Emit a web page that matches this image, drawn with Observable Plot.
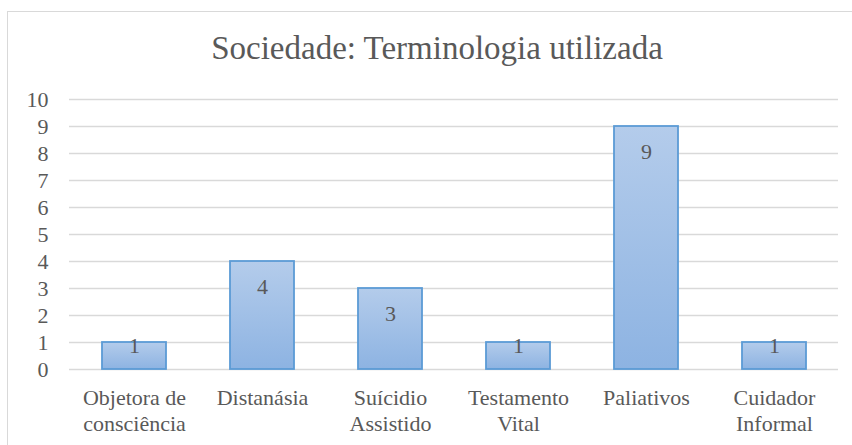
<!DOCTYPE html>
<html>
<head>
<meta charset="utf-8">
<script src="https://cdn.jsdelivr.net/npm/d3@7"></script>
<script src="https://cdn.jsdelivr.net/npm/@observablehq/plot@0.6"></script>
</head>
<body style="margin:0;padding:0;background:#fff;font-family:'Liberation Serif'">
<div id="wrap" style="position:relative;width:852px;height:445px;overflow:hidden;font-family:'Liberation Serif'">
  <div id="frame" style="position:absolute;left:7px;top:11px;width:900px;height:500px;border-left:1.5px solid #d9d9d9;border-top:1.5px solid #d9d9d9;box-sizing:border-box"></div>
  <div id="title" style="position:absolute;left:0;top:0;width:874px;height:80px;text-align:center;font-family:'Liberation Serif';font-size:33px;line-height:1;color:#595959;padding-top:32px;box-sizing:border-box">Sociedade: Terminologia utilizada</div>
  <div id="chart" style="position:absolute;left:0;top:80px"></div>
</div>
<script>
const categories = ["Objetora de\nconsciência", "Distanásia", "Suícidio\nAssistido", "Testamento\nVital", "Paliativos", "Cuidador\nInformal"];
const values = [1, 4, 3, 1, 9, 1];
const yTicks = [0, 1, 2, 3, 4, 5, 6, 7, 8, 9, 10];

const data = categories.map((c, i) => ({category: c, value: values[i]}));
const serif = "'Liberation Serif'";

const chart = Plot.plot({
  width: 852,
  height: 365,
  marginLeft: 69,
  marginRight: 14,
  marginTop: 19,
  marginBottom: 76,
  style: {fontSize: "22px", color: "#595959", background: "transparent", overflow: "visible"},
  x: {domain: categories, paddingInner: 0.5, paddingOuter: 0.25},
  y: {domain: [0, 10]},
  marks: [
    Plot.gridY(yTicks, {stroke: "#d9d9d9", strokeOpacity: 1, strokeWidth: 1.5}),
    Plot.barY(data, {x: "category", y: "value", fill: "url(#barGrad)", stroke: "#5b9bd5", strokeWidth: 1.8}),
    Plot.text(data.filter(d => d.value >= 3), {x: "category", y: "value", text: d => String(d.value), dy: 25, fill: "#595959", fontSize: 22}),
    Plot.text(data.filter(d => d.value < 3), {x: "category", y: "value", text: d => String(d.value), dy: 3, fill: "#595959", fontSize: 22}),
    Plot.axisY(yTicks, {tickSize: 0, tickPadding: 21, fontSize: 22, fill: "#595959", label: null}),
    Plot.axisX({tickSize: 0, tickPadding: 17, fontSize: 22, fill: "#595959", label: null, lineHeight: 1.18})
  ]
});

const svg = d3.select(chart);
svg.attr("font-family", "Liberation Serif").style("font-family", serif);
svg.selectAll("text, tspan, g").attr("font-family", "Liberation Serif").style("font-family", serif);
const defs = svg.insert("defs", ":first-child");
const grad = defs.append("linearGradient").attr("id", "barGrad").attr("x1", 0).attr("y1", 0).attr("x2", 0).attr("y2", 1);
grad.append("stop").attr("offset", "0%").attr("stop-color", "#b4cceb");
grad.append("stop").attr("offset", "100%").attr("stop-color", "#8db3e2");

document.getElementById("chart").appendChild(chart);
</script>
</body>
</html>
